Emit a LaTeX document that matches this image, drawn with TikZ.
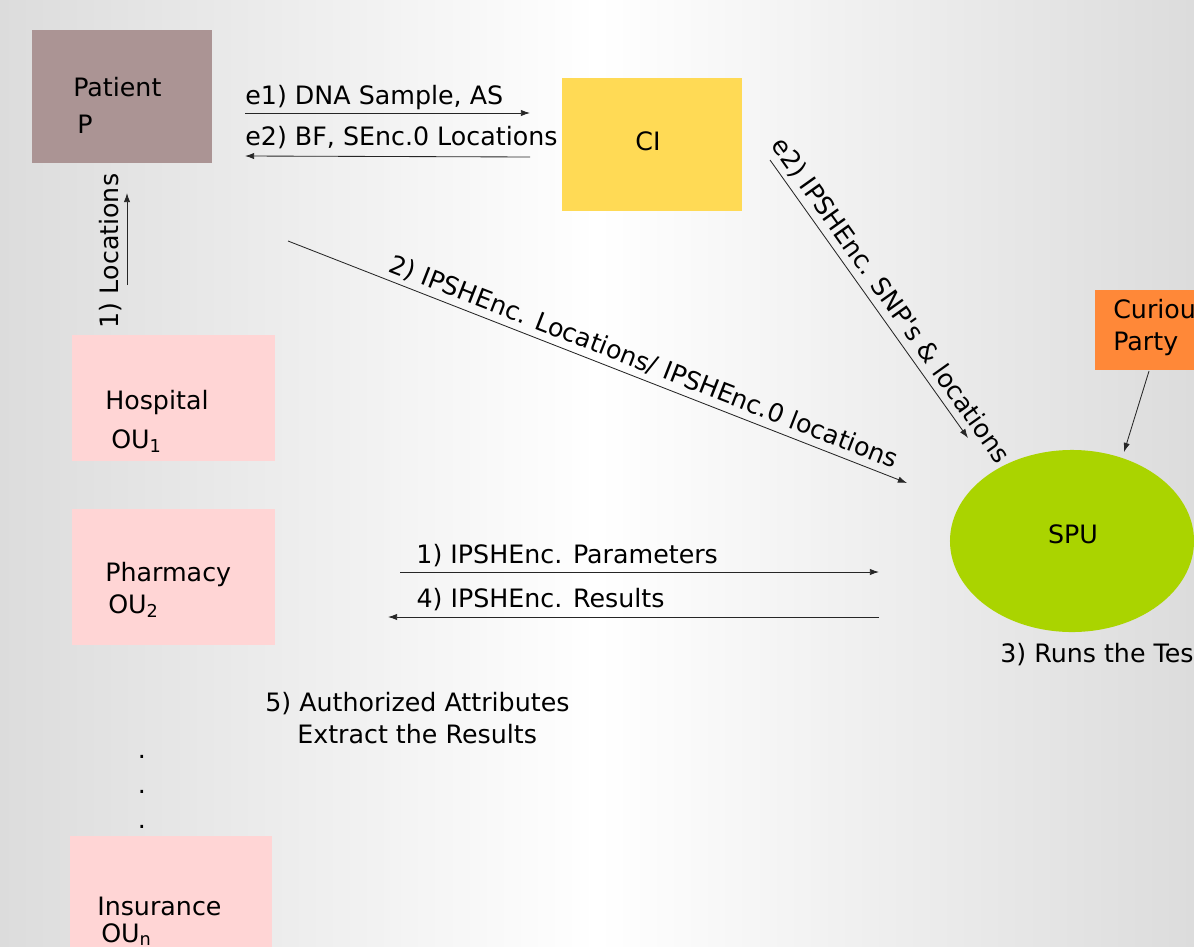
\documentclass[tikz,border=0pt]{standalone}
\usepackage{fontspec}
\setmainfont{DejaVu Sans}
\usetikzlibrary{shapes.geometric,arrows.meta}
\definecolor{bgside}{HTML}{DCDCDC}
\definecolor{patientc}{HTML}{AB9494}
\definecolor{cic}{HTML}{FFDA55}
\definecolor{curiousc}{HTML}{FF8838}
\definecolor{spuc}{HTML}{AAD400}
\definecolor{unitc}{HTML}{FFD5D5}
\begin{document}
\begin{tikzpicture}[x=0.025cm,y=-0.025cm,font=\fontsize{18}{22}\selectfont]
        \useasboundingbox (0,0) rectangle (1194,946);
        \clip (0,0) rectangle (1194,946);
        \shade[left color=bgside,right color=bgside,middle color=white] (0,0) rectangle (1194,946);
        \begin{scope}[every node/.style={rectangle,draw=none,inner sep=0pt}]
        \node[fill=patientc,minimum width=4.5cm,minimum height=3.325cm] (patient) at (122,96.5) {};
        \node[fill=cic,minimum width=4.5cm,minimum height=3.325cm] (ci) at (652,144.5) {};
        \node[fill=curiousc,minimum width=4.5cm,minimum height=2cm] (curious) at (1185,330) {};
        \node[fill=unitc,minimum width=5.075cm,minimum height=3.15cm] (hospital) at (173.5,398) {};
        \node[fill=unitc,minimum width=5.075cm,minimum height=3.4cm] (pharmacy) at (173.5,577) {};
        \node[fill=unitc,minimum width=5.05cm,minimum height=3.6cm] (insurance) at (171,908) {};
        \node[ellipse,fill=spuc,minimum width=6.1cm,minimum height=4.55cm] (spu) at (1072,541) {};
        \end{scope}
        \begin{scope}[every node/.style={anchor=base west,inner sep=0pt}]
        \node (patientname) at (73,97) {Patient};
        \node (patientid) at (77,133) {P};
        \node[anchor=base] (ciname) at (648,150) {CI};
        \node (curiousname) at (1113,318) {Curious};
        \node (curiousparty) at (1113,350) {Party};
        \node (hospitalname) at (105,409) {Hospital};
        \node (hospitalid) at (111,448) {OU\textsubscript{1}};
        \node (pharmacyname) at (105,581) {Pharmacy};
        \node (pharmacyid) at (108,613) {OU\textsubscript{2}};
        \node (insurancename) at (97,915) {Insurance};
        \node (insuranceid) at (101,942) {OU\textsubscript{n}};
        \node[anchor=base] (spuname) at (1073,543) {SPU};
        \node (runs) at (1000,662) {3) Runs the Test};
        \node (extract1) at (265,711) {5) Authorized Attributes};
        \node (extract2) at (297,743) {Extract the Results};
        \foreach \y in {758,793,828} \node[anchor=base] at (142,\y) {.};
        \end{scope}
        \coordinate (e1s) at (245,113);
        \coordinate (e1t) at (530,113);
        \coordinate (e2s) at (530,157);
        \coordinate (e2t) at (245,156);
        \coordinate (locs) at (127,285);
        \coordinate (loct) at (127,193);
        \coordinate (encs) at (288,241);
        \coordinate (enct) at (907,483);
        \coordinate (snps) at (770,160);
        \coordinate (snpt) at (968,438);
        \coordinate (curs) at (1149,371);
        \coordinate (curt) at (1124,452);
        \coordinate (pars) at (400,572);
        \coordinate (part) at (879,572);
        \coordinate (ress) at (879,617);
        \coordinate (rest) at (388,617);
        \begin{scope}[every edge/.style={draw=black!85,line width=0.6pt,-{Latex[length=6.5pt,width=4.5pt]}}]
        \path (e1s) edge node[pos=0,anchor=base west,yshift=6.4pt,inner sep=0pt] {e1) DNA Sample, AS} (e1t)
              (e2s) edge node[pos=1,anchor=base west,yshift=7.8pt,inner sep=0pt] {e2) BF, SEnc.0 Locations} (e2t)
              (locs) edge node[pos=0.37,sloped,above] {1) Locations} (loct)
              (encs) edge node[pos=0.565,sloped,above] {2) IPSHEnc. Locations/ IPSHEnc.0 locations} (enct)
              (snps) edge node[pos=0.54,sloped,above] {e2) IPSHEnc. SNP\textquotesingle s \& locations} (snpt)
              (curs) edge (curt)
              (pars) edge node[pos=0,anchor=base west,xshift=11.4pt,yshift=6.4pt,inner sep=0pt] {1) IPSHEnc. Parameters} (part)
              (ress) edge node[pos=1,anchor=base west,xshift=20pt,yshift=7.1pt,inner sep=0pt] {4) IPSHEnc. Results} (rest);
        \end{scope}
\end{tikzpicture}
\end{document}
